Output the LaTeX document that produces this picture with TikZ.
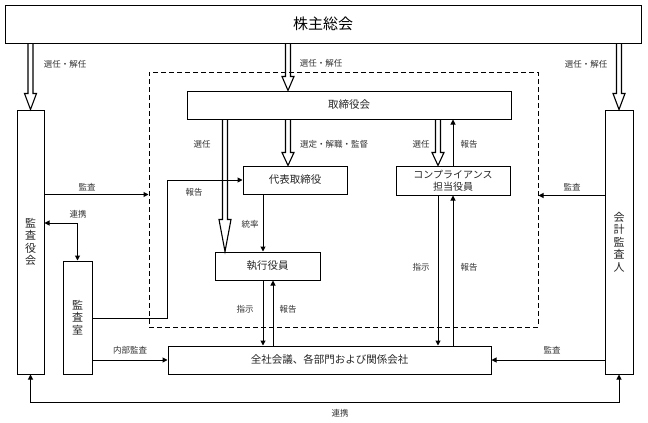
\documentclass[tikz,border=0pt]{standalone}
\usepackage{fontspec}
\setmainfont{Noto Sans CJK JP}
\usetikzlibrary{arrows.meta,calc}
\begin{document}
\begin{tikzpicture}[x=1pt,y=-1pt,
 box/.style={draw, line width=1pt, inner sep=0pt, align=center, font=\fontsize{10.5}{13}\selectfont, text=black!85},
 vbox/.style={box, font=\fontsize{11}{12.5}\selectfont},
 lbl/.style={font=\fontsize{8.5}{10}\selectfont, text=black!80, inner sep=0pt},
 arr/.style={line width=1pt, -{Triangle[length=5pt,width=5pt]}},
 arrb/.style={line width=1pt, {Triangle[length=5pt,width=5pt]}-{Triangle[length=5pt,width=5pt]}},
 hl/.style={line width=1.1pt, line join=miter, draw=black},
 hollow/.style={to path={let \p1=(\tikztostart), \p2=(\tikztotarget) in
   (\x1-2.5pt,\y1) -- (\x1-2.5pt,\y2+#1) -- (\x1-6pt,\y2+#1) -- (\x1,\y2) -- (\x1+6pt,\y2+#1) -- (\x1+2.5pt,\y2+#1) -- (\x1+2.5pt,\y1)}},
]
\useasboundingbox (0,0) rectangle (648,423);

% dashed frame
\node[draw, line width=1pt, dash pattern=on 5pt off 3pt, minimum width=389pt, minimum height=255pt, inner sep=0pt] (dash) at (343.5,199.5) {};

% boxes
\node[box, minimum width=636pt, minimum height=38pt, font=\fontsize{15}{18}\selectfont, text=black] (top) at (323,24) {株主総会};
\node[box, minimum width=324pt, minimum height=28pt] (tori) at (349,105) {取締役会};
\node[vbox, minimum width=27pt, minimum height=264pt] (kansayaku) at (30.5,242) {監\\査\\役\\会};
\node[vbox, minimum width=28pt, minimum height=264pt] (kaikei) at (619,242) {会\\計\\監\\査\\人};
\node[box, minimum width=104pt, minimum height=28pt] (daihyo) at (295,180) {代表取締役};
\node[box, minimum width=114pt, minimum height=29pt, font=\fontsize{10}{12}\selectfont] (compl) at (453,180.5) {コンプライアンス\\担当役員};
\node[box, minimum width=105pt, minimum height=28pt] (shikko) at (267.5,266) {執行役員};
\node[vbox, minimum width=29pt, minimum height=113pt] (shitsu) at (77.5,317.5) {監\\査\\室};
\node[box, minimum width=323pt, minimum height=28pt] (zensha) at (329.5,360) {全社会議、各部門および関係会社};

% helper coordinates
\coordinate (xa) at (288,0);
\coordinate (xb) at (225,0);
\coordinate (xc) at (263,0);
\coordinate (xd) at (438,0);
\coordinate (xe) at (273,0);
\coordinate (yr) at (0,223);
\coordinate (bend) at (167,318);
\coordinate (yb) at (0,402);

% hollow arrows
\draw[hl] (top.south -| kansayaku.north) to[hollow=16pt] (kansayaku.north);
\draw[hl] (top.south -| xa) to[hollow=14pt] (tori.north -| xa);
\draw[hl] (top.south -| kaikei.north) to[hollow=16pt] (kaikei.north);
\draw[hl] (tori.south -| xb) to[hollow=32pt] (shikko.north -| xb);
\draw[hl] (tori.south -| xa) to[hollow=13pt] (daihyo.north -| xa);
\draw[hl] (tori.south -| xd) to[hollow=13pt] (compl.north -| xd);

% plain arrows
\draw[arr] (kansayaku.east |- daihyo.south) -- (dash.west |- daihyo.south);
\draw[arr] (kaikei.west |- compl.south) -- (dash.east |- compl.south);
\draw[arrb] (kansayaku.east |- yr) -| (shitsu.north);
\draw[arr] (shitsu.east |- bend) -- (bend) -- (bend |- daihyo.west) -- (daihyo.west);
\draw[arr] (daihyo.south -| xc) -- (shikko.north -| xc);
\draw[arr] (compl.north) -- (tori.south -| compl.north);
\draw[arr] (shikko.south -| xc) -- (zensha.north -| xc);
\draw[arr] (zensha.north -| xe) -- (shikko.south -| xe);
\draw[arr] (compl.south -| xd) -- (zensha.north -| xd);
\draw[arr] (zensha.north -| compl.south) -- (compl.south);
\draw[arr] (shitsu.east |- zensha.west) -- (zensha.west);
\draw[arr] (kaikei.west |- zensha.east) -- (zensha.east);
\draw[arrb] (kansayaku.south) -- (kansayaku.south |- yb) -- (kaikei.south |- yb) -- (kaikei.south);

% labels
\node[lbl] (l1) at (65,64) {選任・解任};
\node[lbl] (l2) at (321,63) {選任・解任};
\node[lbl] (l3) at (586,64) {選任・解任};
\node[lbl] (l4) at (87,187) {監査};
\node[lbl] (l5) at (572,187) {監査};
\node[lbl] (l6) at (78,214) {連携};
\node[lbl] (l7) at (194,192) {報告};
\node[lbl] (l8) at (202,144) {選任};
\node[lbl] (l9) at (334,144) {選定・解職・監督};
\node[lbl] (l10) at (250,224) {統率};
\node[lbl] (l11) at (421,144) {選任};
\node[lbl] (l12) at (469,144) {報告};
\node[lbl] (l13) at (421,267) {指示};
\node[lbl] (l14) at (469,267) {報告};
\node[lbl] (l15) at (245,309) {指示};
\node[lbl] (l16) at (288,309) {報告};
\node[lbl] (l17) at (130,350) {内部監査};
\node[lbl] (l18) at (552,350) {監査};
\node[lbl] (l19) at (340,413) {連携};
\end{tikzpicture}
\end{document}
